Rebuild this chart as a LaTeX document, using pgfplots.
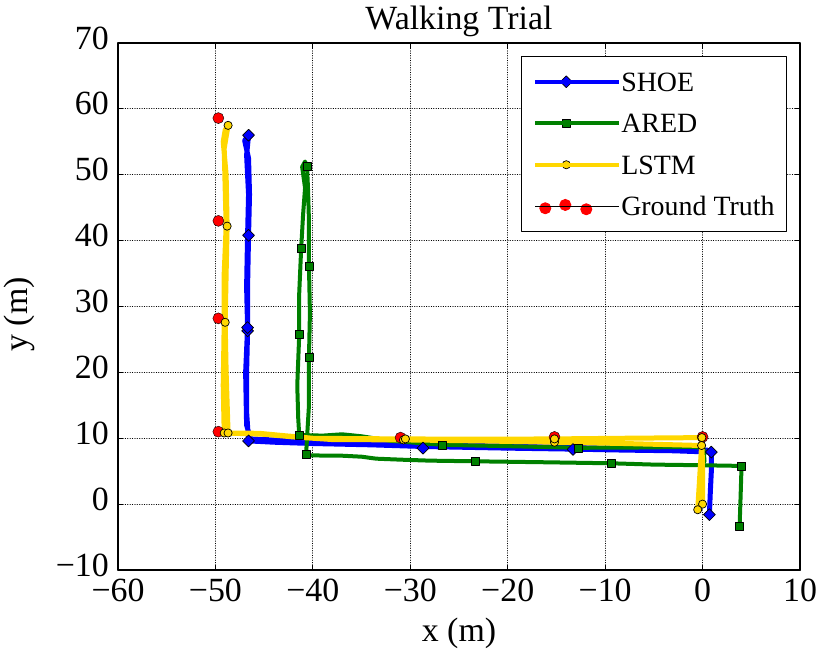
\documentclass[border=0pt]{standalone}
\usepackage{fontspec}
\setmainfont{Liberation Serif}
\usepackage{pgfplots}
\pgfplotsset{compat=1.18}
\definecolor{shoe}{RGB}{0,0,255}
\definecolor{ared}{RGB}{0,128,0}
\definecolor{lstm}{RGB}{255,215,0}
\definecolor{gt}{RGB}{255,0,0}
\begin{document}
\begin{tikzpicture}
\begin{axis}[
  scale only axis, width=682bp, height=527bp,
  xmin=-60, xmax=10, ymin=-10, ymax=70,
  xtick={-60,-50,...,10}, ytick={-10,0,...,70},
  xticklabels={−60,−50,−40,−30,−20,−10,0,10},
  yticklabels={−10,0,10,20,30,40,50,60,70},
  tick align=inside, major tick length=5bp,
  every tick/.style={black, line width=0.8bp},
  axis line style={line width=1.2bp},
  grid=major, major grid style={black, dotted, line width=0.8bp},
  ticklabel style={font=\fontsize{34}{34}\selectfont},
  xticklabel style={inner sep=0pt, yshift=-9bp},
  yticklabel style={inner sep=0pt, xshift=-9bp, yshift=5bp},
  title={Walking Trial},
  title style={font=\fontsize{34}{34}\selectfont, at={(axis description cs:0.5,1.0152)}, anchor=base, inner sep=0pt},
  xlabel={x (m)},
  xlabel style={font=\fontsize{34}{34}\selectfont, at={(axis description cs:0.5,-0.1366)}, anchor=base, inner sep=0pt},
  ylabel={y (m)},
  ylabel style={font=\fontsize{34}{34}\selectfont, at={(axis description cs:-0.1334,0.485)}, anchor=base, inner sep=0pt, rotate=0},
  legend style={at={(axis description cs:1,1)}, anchor=north east, xshift=-13bp, yshift=-13bp,
    draw=black, line width=1bp, fill=white, font=\fontsize{28}{28}\selectfont,
    inner xsep=12bp, inner ysep=16bp, row sep=23bp,
    nodes={inner sep=0pt, text height=18.5bp, text depth=0pt}, cells={anchor=west}},
  legend image code/.code={\draw[mark repeat=2,mark phase=2,#1] plot coordinates {(0bp,0bp) (31bp,0bp) (62bp,0bp)}; \path (0bp,0bp) -- (84bp,0bp);},
  line join=round, line cap=round,
]
% ground truth
\addplot[only marks, mark=*, mark size=5.5bp, mark options={fill=gt, draw=none}, forget plot] coordinates {
(0,10.2) (-15.2,10.2) (-31,10.1) (-49.7,11.0) (-49.7,28.2) (-49.7,43.0) (-49.7,58.6)};
% SHOE
\addplot[shoe, line width=5bp, no marks, forget plot] coordinates {
(0.7,-1.6) (0.8,2) (0.9,5) (0.9,7.9) (-3,8.1) (-8,8.2) (-13.3,8.35) (-20,8.5) (-28.7,8.75) (-34,9.0) (-40,9.2) (-44,9.4) (-46.6,9.6)
(-46.8,14) (-46.8,20) (-46.7,26.3) (-46.7,33) (-46.6,40.8) (-46.5,47) (-46.6,52.5) (-47.0,55.2) (-46.6,56.0)
(-46.8,53) (-46.6,47) (-46.7,40.8) (-46.8,33) (-46.7,26.8) (-46.9,20) (-46.8,12) (-46.4,9.9)
(-42,9.6) (-38,9.4) (-30,9.1) (-20,8.8) (-10,8.5) (-3,8.3) (0.5,8.2)};
\addplot[only marks, mark=square*, mark size=4.2bp, mark options={rotate=45, fill=shoe, draw=black, line width=0.7bp}, forget plot] coordinates {
(0.7,-1.6) (0.9,7.9) (-13.3,8.3) (-28.7,8.5) (-46.6,9.6) (-46.7,26.3) (-46.7,26.8) (-46.6,40.8) (-46.6,56.0)};
% ARED
\addplot[ared, line width=4bp, no marks, forget plot] coordinates {
(3.8,-3.4) (3.9,1) (4.0,5.8) (0,5.9) (-5,6.0) (-9.4,6.2) (-16,6.35) (-23.3,6.5) (-28,6.6) (-31,6.75) (-33.5,6.9) (-35,7.2) (-37,7.35) (-40.7,7.4)
(-40.6,10) (-40.4,15) (-40.4,22.3) (-40.3,29) (-40.4,36.1) (-40.4,43) (-40.5,48) (-40.6,51.3) (-40.8,52.0)
(-41.1,51.2) (-40.8,48) (-41.0,44) (-41.2,38.8) (-41.4,32) (-41.4,25.7) (-41.6,18) (-41.5,13) (-41.4,10.5)
(-39,10.4) (-37,10.6) (-35,10.3) (-32,9.6) (-26.7,9.0) (-20,8.8) (-12.7,8.55) (-6,8.6) (-1,8.7) (0.1,8.5) (0.2,6.5)};
\addplot[only marks, mark=square*, mark size=4bp, mark options={fill=ared, draw=black, line width=0.7bp}, forget plot] coordinates {
(3.8,-3.4) (4.0,5.8) (-9.4,6.2) (-23.3,6.5) (-40.7,7.5) (-40.4,22.3) (-40.4,36.1) (-40.6,51.3) (-41.2,38.8) (-41.4,25.7) (-41.4,10.5) (-26.7,8.9) (-12.7,8.5)};
% LSTM
\addplot[lstm, line width=5bp, no marks, forget plot] coordinates {
(0,0) (0,5) (-0.07,10.1) (-8,10.0) (-15.2,9.9) (-23,9.85) (-30.5,9.9) (-36,9.95) (-40,10.0) (-43,10.4) (-45.5,10.75) (-48.7,10.8)
(-48.9,20) (-49.0,27.6) (-48.9,35) (-48.8,42.2) (-48.9,50) (-49.2,55) (-49.0,56.8) (-48.7,57.5)
(-49.1,54) (-49.0,48) (-48.9,42.2) (-49.1,35) (-49.1,27.6) (-49.2,18) (-49.1,10.8)
(-45,10.6) (-42,10.2) (-38,9.8) (-30.7,9.75) (-23,9.6) (-15.2,9.4) (-8,9.2) (-0.1,8.9) (-0.3,4) (-0.5,-0.85)};
\addplot[only marks, mark=*, mark size=4.1bp, mark options={fill=lstm, draw=black, line width=0.7bp}, forget plot] coordinates {
(-48.7,57.5) (-48.8,42.2) (-49.0,27.6) (-49.1,10.8) (-48.7,10.8) (-30.7,9.75) (-30.5,9.9) (-15.2,9.4) (-15.2,9.9) (-0.07,10.1) (-0.1,8.9) (0,0) (-0.5,-0.85)};
% legend
\addlegendimage{shoe, line width=4bp, mark=square*, mark size=4.2bp, mark options={rotate=45, fill=shoe, draw=black, line width=0.7bp}}
\addlegendentry{SHOE}
\addlegendimage{ared, line width=4bp, mark=square*, mark size=4bp, mark options={fill=ared, draw=black, line width=0.7bp}}
\addlegendentry{ARED}
\addlegendimage{lstm, line width=4bp, mark=*, mark size=4.1bp, mark options={fill=lstm, draw=black, line width=0.7bp}}
\addlegendentry{LSTM}
\addlegendimage{legend image code/.code={\fill[gt] (10bp,-2bp) circle (5.5bp); \fill[gt] (30bp,1.3bp) circle (5.5bp); \fill[gt] (51bp,-3bp) circle (5.5bp); \path (0bp,0bp) -- (84bp,0bp);}}
\addlegendentry{Ground Truth}
\end{axis}
\pgfresetboundingbox
\path[use as bounding box] (-118bp,-89bp) rectangle (712bp,570bp);
\end{tikzpicture}
\end{document}
